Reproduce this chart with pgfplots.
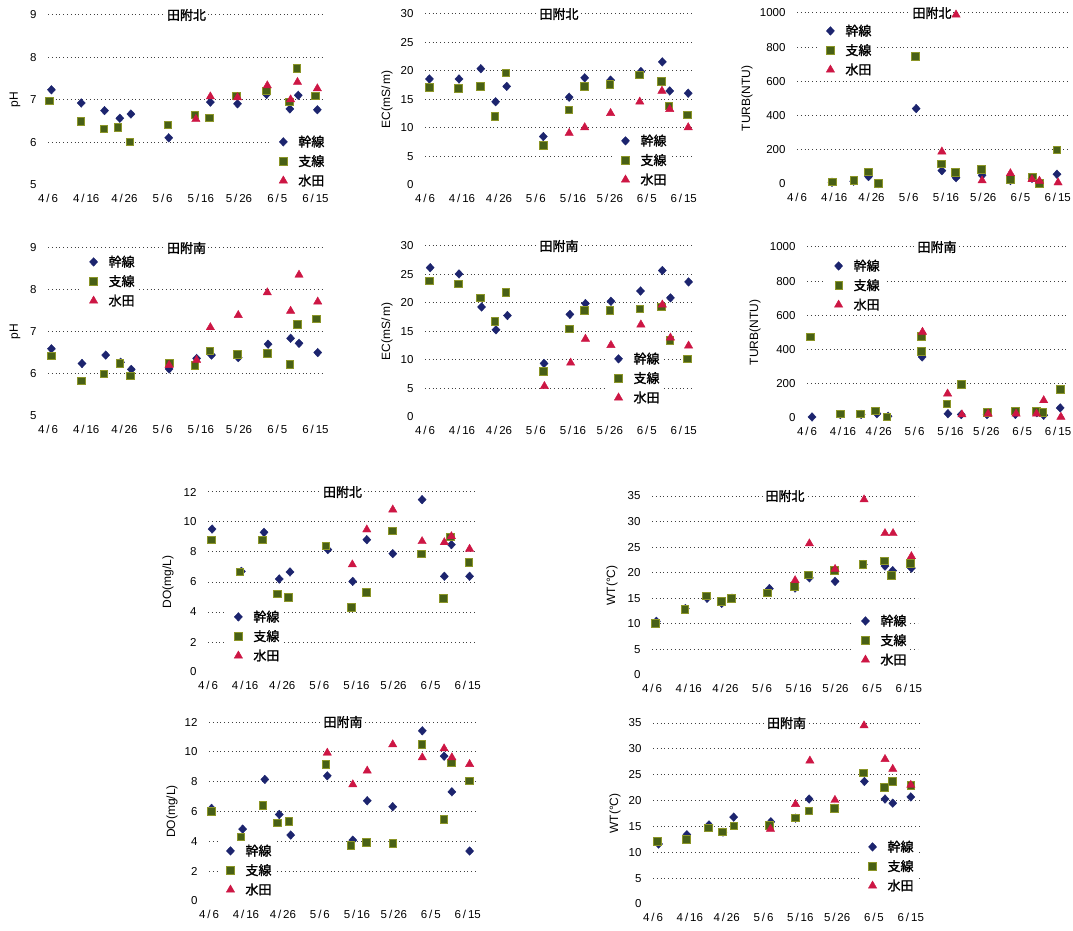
\documentclass[border=0pt]{standalone}
\usepackage{fontspec}
\setmainfont{Liberation Sans}
\newfontfamily\cjk{Noto Sans CJK JP}[AutoFakeBold=1.5]
\usepackage{pgfplots}
\pgfplotsset{compat=1.18}
\definecolor{c1}{RGB}{28,36,110}
\definecolor{c2}{RGB}{72,96,22}
\definecolor{c2e}{RGB}{140,150,40}
\definecolor{c3}{RGB}{205,22,68}
\newcommand{\ptitle}[1]{\node[fill=white,inner sep=1.5pt,font=\cjk\bfseries\fontsize{13}{13}\selectfont] at (rel axis cs:0.5,1) {#1};}
\pgfplotsset{
  panel/.style={
    scale only axis, enlargelimits=false, clip=false,
    xmin=0, xmax=72.5,
    xtick={0,10,...,70},
    xticklabels={4\thinspace/\thinspace6,4\thinspace/\thinspace16,4\thinspace/\thinspace26,5\thinspace/\thinspace6,5\thinspace/\thinspace16,5\thinspace/\thinspace26,6\thinspace/\thinspace5,6\thinspace/\thinspace15},
    axis line style={draw=none}, major tick length=0pt, tick style={draw=none},
    ymajorgrids, grid style={black!75, line width=1pt, dash pattern=on 1pt off 2.8pt},
    extra y tick style={grid=none},
    tick label style={font=\fontsize{11.5}{12}\selectfont},
    xticklabel style={yshift=-6pt},
    yticklabel style={xshift=-8pt},
    /pgf/number format/assume math mode=true,
    /pgf/number format/1000 sep={},
    ylabel style={font=\fontsize{12}{12}\selectfont, anchor=center},
    legend image code/.code={\draw[##1] plot coordinates {(0.35cm,0cm)}; \path (0cm,-0.1cm) (0.8cm,0.1cm);},
    legend style={draw=none, fill=white, inner sep=2pt, row sep=3pt, anchor=north west,
      font=\cjk\bfseries\fontsize{13}{14}\selectfont, cells={anchor=west}},
  },
  s1/.style={only marks, mark=diamond*, mark size=4.3pt, color=c1, mark options={xscale=1.25}},
  s2/.style={only marks, mark=square*, mark size=3.8pt, color=c2, mark options={draw=c2e, fill=c2, line width=0.6pt}},
  s3/.style={only marks, mark=triangle*, mark size=4.8pt, color=c3},
  phax/.style={panel, ymin=5, ymax=9, ytick={6,7,8,9}, extra y ticks={5}, ylabel={pH}},
  ecax/.style={panel, ymin=0, ymax=30, ytick={5,10,...,30}, extra y ticks={0}, ylabel={EC(mS/\,m)}},
  tuax/.style={panel, ymin=0, ymax=1000, ytick={200,400,...,1000}, extra y ticks={0}, ylabel={TURB(NTU)}},
  doax/.style={panel, ymin=0, ymax=12, ytick={2,4,...,12}, extra y ticks={0}, ylabel={DO(mg/L)}},
  wtax/.style={panel, ymin=0, ymax=35, ytick={5,10,...,35}, extra y ticks={0}, ylabel={WT(°C)}},
}
\begin{document}
\begin{tikzpicture}
\useasboundingbox (0,0) rectangle (1073pt,930pt);

% ---------- pH North
\begin{axis}[phax, width=277pt, height=170pt, at={(48pt,745pt)}, anchor=south west,
  ylabel style={at={(axis description cs:-0.119,0.5)}},
  legend style={at={(axis description cs:0.805,0.315)}}]
\addplot[s1] coordinates {(0.9,7.24)(8.7,6.93)(14.8,6.75)(18.8,6.57)(21.7,6.67)(31.6,6.11)(42.5,6.95)(49.6,6.91)(57.2,7.13)(63.3,6.79)(65.5,7.11)(70.5,6.77)};
\addplot[s2] coordinates {(0.4,6.98)(8.6,6.50)(14.6,6.32)(18.3,6.36)(21.4,6.02)(31.4,6.42)(38.4,6.65)(42.2,6.58)(49.3,7.10)(57.2,7.22)(63.1,6.96)(65.1,7.75)(69.9,7.10)};
\addplot[s3] coordinates {(38.7,6.55)(42.5,7.08)(49.6,7.06)(57.4,7.34)(63.5,7.01)(65.3,7.42)(70.5,7.27)};
\legend{幹線,支線,水田}
\ptitle{田附北}
\end{axis}

% ---------- EC North
\begin{axis}[ecax, width=268pt, height=171pt, at={(425pt,745pt)}, anchor=south west,
  ylabel style={at={(axis description cs:-0.142,0.5)}},
  legend style={at={(axis description cs:0.702,0.319)}}]
\addplot[s1] coordinates {(1.2,18.6)(9.2,18.6)(15.1,20.4)(19.1,14.6)(22.1,17.3)(32.0,8.5)(39.0,15.4)(43.2,18.8)(50.2,18.4)(58.4,19.9)(64.2,21.6)(66.2,16.5)(71.2,16.1)};
\addplot[s2] coordinates {(1.1,17.1)(9.0,17.0)(15.0,17.3)(18.9,12.1)(21.9,19.7)(32.0,7.0)(38.9,13.2)(43.1,17.3)(50.0,17.7)(57.9,19.3)(64.0,18.2)(66.0,13.9)(70.9,12.3)};
\addplot[s3] coordinates {(39.0,9.1)(43.2,10.1)(50.2,12.6)(58.1,14.6)(64.1,16.5)(66.2,13.3)(71.2,10.1)};
\legend{幹線,支線,水田}
\ptitle{田附北}
\end{axis}

% ---------- TURB North
\begin{axis}[tuax, width=270pt, height=171pt, at={(797pt,746pt)}, anchor=south west,
  ylabel style={at={(axis description cs:-0.185,0.5)}},
  legend style={at={(axis description cs:0.078,0.956)}}]
\addplot[s1] coordinates {(9.4,10)(15.2,16)(19.2,43)(21.9,2)(32.0,441)(38.9,78)(42.7,37)(49.7,51)(57.3,20)(63.1,33)(65.1,8)(69.8,57)};
\addplot[s2] coordinates {(9.4,14)(15.2,20)(19.1,72)(21.9,4)(31.8,746)(38.7,117)(42.5,68)(49.5,86)(57.2,27)(63.1,39)(65.1,4)(69.8,199)};
\addplot[s3] coordinates {(38.9,189)(42.7,990)(49.7,20)(57.3,62)(63.1,27)(65.1,18)(70.1,8)};
\legend{幹線,支線,水田}
\ptitle{田附北}
\end{axis}

% ---------- pH South
\begin{axis}[phax, width=277pt, height=168pt, at={(48pt,514pt)}, anchor=south west,
  ylabel style={at={(axis description cs:-0.119,0.5)}},
  legend style={at={(axis description cs:0.12,0.979)}}]
\addplot[s1] coordinates {(0.9,6.60)(8.9,6.25)(15.1,6.45)(19.0,6.28)(21.8,6.11)(31.7,6.12)(38.9,6.37)(42.8,6.45)(49.8,6.39)(57.6,6.71)(63.5,6.85)(65.7,6.73)(70.6,6.51)};
\addplot[s2] coordinates {(0.9,6.43)(8.7,5.84)(14.6,6.00)(18.8,6.25)(21.6,5.96)(31.7,6.27)(38.4,6.21)(42.4,6.55)(49.5,6.47)(57.4,6.49)(63.3,6.23)(65.3,7.19)(70.3,7.31)};
\addplot[s3] coordinates {(31.7,6.21)(38.9,6.33)(42.5,7.11)(49.8,7.40)(57.4,7.94)(63.5,7.50)(65.7,8.36)(70.6,7.72)};
\legend{幹線,支線,水田}
\ptitle{田附南}
\end{axis}

% ---------- EC South
\begin{axis}[ecax, width=268pt, height=171pt, at={(425pt,513pt)}, anchor=south west,
  ylabel style={at={(axis description cs:-0.142,0.5)}},
  legend style={at={(axis description cs:0.676,0.401)}}]
\addplot[s1] coordinates {(1.4,26.2)(9.2,25.1)(15.3,19.3)(19.2,15.3)(22.3,17.8)(32.2,9.4)(39.2,18.0)(43.4,19.9)(50.3,20.3)(58.3,22.1)(64.2,25.7)(66.4,20.9)(71.3,23.7)};
\addplot[s2] coordinates {(1.2,23.9)(9.0,23.4)(15.0,20.9)(18.9,16.8)(21.9,21.9)(32.0,8.0)(39.0,15.5)(43.1,18.7)(50.0,18.7)(58.1,19.0)(64.0,19.3)(66.2,13.5)(71.0,10.2)};
\addplot[s3] coordinates {(32.3,5.4)(39.4,9.5)(43.4,13.7)(50.3,12.6)(58.4,16.2)(64.2,19.7)(66.4,13.9)(71.3,12.5)};
\legend{幹線,支線,水田}
\ptitle{田附南}
\end{axis}

% ---------- TURB South
\begin{axis}[tuax, width=260pt, height=171pt, at={(807pt,512pt)}, anchor=south west,
  ylabel style={at={(axis description cs:-0.2,0.5)}},
  legend style={at={(axis description cs:0.074,0.950)}}]
\addplot[s1] coordinates {(1.4,6)(9.3,20)(15.1,21)(19.5,25)(22.6,10)(32.1,357)(39.3,25)(43.0,20)(50.2,20)(58.1,21)(64.1,31)(66.0,16)(70.6,59)};
\addplot[s2] coordinates {(0.9,474)(9.3,25)(14.9,25)(19.1,41)(22.3,6)(31.9,478)(31.9,390)(39.0,84)(43.0,197)(50.2,35)(58.0,41)(64.0,41)(65.8,35)(70.6,168)};
\addplot[s3] coordinates {(32.2,503)(39.2,142)(43.2,20)(50.5,25)(58.3,25)(64.0,25)(66.0,103)(70.8,6)};
\legend{幹線,支線,水田}
\ptitle{田附南}
\end{axis}

% ---------- DO North
\begin{axis}[doax, width=269pt, height=180pt, at={(208pt,258pt)}, anchor=south west,
  ylabel style={at={(axis description cs:-0.149,0.5)}},
  legend style={at={(axis description cs:0.067,0.364)}}]
\addplot[s1] coordinates {(1.1,9.53)(9.0,6.71)(15.1,9.31)(19.2,6.20)(22.1,6.67)(32.3,8.16)(39.0,6.04)(42.8,8.82)(49.8,7.89)(57.7,11.49)(63.7,6.38)(65.6,8.49)(70.5,6.38)};
\addplot[s2] coordinates {(0.9,8.82)(8.6,6.67)(14.7,8.82)(18.7,5.22)(21.6,4.98)(31.7,8.42)(38.6,4.31)(42.6,5.31)(49.6,9.42)(57.5,7.89)(63.4,4.93)(65.3,9.0)(70.3,7.33)};
\addplot[s3] coordinates {(38.9,7.16)(42.8,9.49)(49.8,10.82)(57.7,8.71)(63.7,8.64)(65.6,9.04)(70.5,8.2)};
\legend{幹線,支線,水田}
\ptitle{田附北}
\end{axis}

% ---------- DO South
\begin{axis}[doax, width=268pt, height=179pt, at={(209pt,29pt)}, anchor=south west,
  ylabel style={at={(axis description cs:-0.138,0.5)}},
  legend style={at={(axis description cs:0.034,0.338)}}]
\addplot[s1] coordinates {(0.7,6.21)(9.1,4.82)(15.1,8.15)(19.0,5.80)(22.1,4.42)(32.0,8.39)(38.9,4.08)(42.8,6.72)(49.7,6.32)(57.7,11.41)(63.6,9.71)(65.7,7.32)(70.5,3.35)};
\addplot[s2] coordinates {(0.7,6.03)(8.6,4.31)(14.6,6.43)(18.5,5.25)(21.6,5.36)(31.6,9.17)(38.4,3.75)(42.5,3.93)(49.7,3.86)(57.6,10.49)(63.5,5.47)(65.5,9.26)(70.4,8.06)};
\addplot[s3] coordinates {(32.0,9.93)(38.9,7.81)(42.8,8.73)(49.7,10.49)(57.7,9.62)(63.6,10.22)(65.7,9.62)(70.5,9.17)};
\legend{幹線,支線,水田}
\ptitle{田附南}
\end{axis}

% ---------- WT North
\begin{axis}[wtax, width=266pt, height=179pt, at={(652pt,255pt)}, anchor=south west,
  ylabel style={at={(axis description cs:-0.150,0.5)}},
  legend style={at={(axis description cs:0.756,0.360)}}]
\addplot[s1] coordinates {(1.2,10.5)(9.1,13.0)(15.0,15.0)(19.0,14.0)(21.8,15.0)(32.0,16.9)(39.0,17.0)(42.9,19.0)(49.9,18.3)(57.6,21.6)(63.5,21.3)(65.6,20.4)(70.7,20.9)};
\addplot[s2] coordinates {(0.9,10.1)(8.9,12.8)(14.8,15.5)(18.9,14.4)(21.6,15.0)(31.5,16.1)(38.8,17.4)(42.6,19.6)(49.7,20.5)(57.4,21.6)(63.3,22.3)(65.3,19.5)(70.4,21.8)};
\addplot[s3] coordinates {(39.0,18.5)(42.9,25.7)(49.9,20.7)(57.8,34.3)(63.5,27.7)(65.7,27.7)(70.7,23.2)};
\legend{幹線,支線,水田}
\ptitle{田附北}
\end{axis}

% ---------- WT South
\begin{axis}[wtax, width=267pt, height=181pt, at={(653pt,26pt)}, anchor=south west,
  ylabel style={at={(axis description cs:-0.142,0.5)}},
  legend style={at={(axis description cs:0.776,0.373)}}]
\addplot[s1] coordinates {(1.5,11.6)(9.2,13.4)(15.2,15.3)(19.0,13.9)(21.9,16.8)(32.0,15.9)(38.7,16.6)(42.4,20.3)(49.4,18.5)(57.4,23.7)(63.0,20.3)(65.1,19.5)(70.0,20.7)};
\addplot[s2] coordinates {(1.2,12.1)(9.1,12.5)(15.0,14.7)(18.8,14.0)(21.9,15.1)(31.5,15.2)(38.7,16.7)(42.3,18.0)(49.2,18.5)(57.1,25.4)(62.8,22.6)(65.0,23.7)(70.0,22.9)};
\addplot[s3] coordinates {(31.9,14.5)(38.7,19.3)(42.6,27.7)(49.4,20.1)(57.3,34.5)(63.0,28.0)(65.1,26.1)(70.0,23.0)};
\legend{幹線,支線,水田}
\ptitle{田附南}
\end{axis}
\end{tikzpicture}
\end{document}
